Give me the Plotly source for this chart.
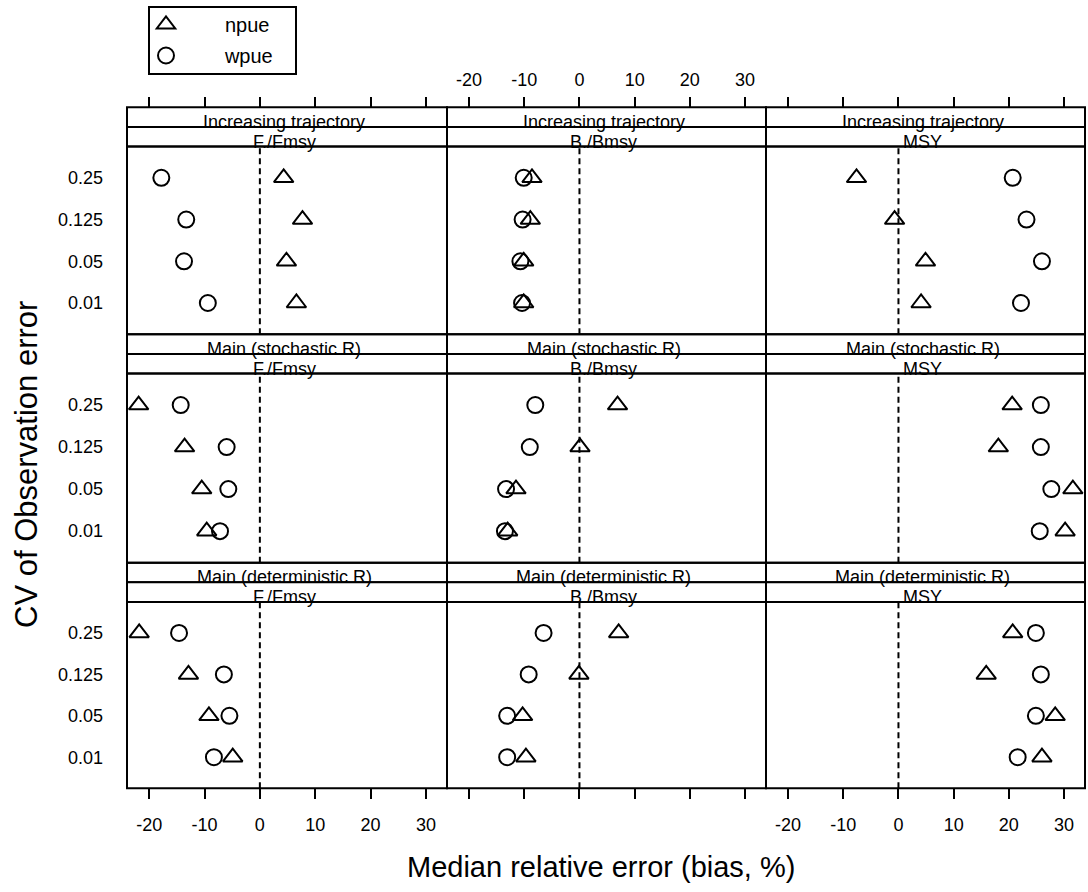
import plotly.graph_objects as go
from plotly.subplots import make_subplots

# ---------------- data ----------------
cv_levels = ["0.25", "0.125", "0.05", "0.01"]          # top -> bottom
cv_axis_order = ["0.01", "0.05", "0.125", "0.25"]      # bottom -> top
scenarios = ["Increasing trajectory", "Main (stochastic R)", "Main (deterministic R)"]
quantities = ["F./Fmsy", "B./Bmsy", "MSY"]
series_names = ["npue", "wpue"]
x_ticks = [-20, -10, 0, 10, 20, 30]
x_tick_labels = ["-20", "-10", "0", "10", "20", "30"]

# values listed in cv_levels order (0.25, 0.125, 0.05, 0.01)
inc_F_npue = [4.3, 7.7, 4.8, 6.6]
inc_F_wpue = [-17.8, -13.3, -13.7, -9.4]
inc_B_npue = [-8.6, -8.9, -10.1, -10.1]
inc_B_wpue = [-10.1, -10.3, -10.7, -10.4]
inc_MSY_npue = [-7.6, -0.7, 4.9, 4.1]
inc_MSY_wpue = [20.7, 23.2, 26.0, 22.2]

sto_F_npue = [-21.9, -13.6, -10.5, -9.6]
sto_F_wpue = [-14.3, -6.0, -5.7, -7.2]
sto_B_npue = [6.9, 0.1, -11.5, -13.0]
sto_B_wpue = [-8.0, -9.0, -13.3, -13.5]
sto_MSY_npue = [20.6, 18.1, 31.6, 30.2]
sto_MSY_wpue = [25.8, 25.8, 27.7, 25.6]

det_F_npue = [-21.8, -12.9, -9.2, -4.9]
det_F_wpue = [-14.6, -6.5, -5.5, -8.3]
det_B_npue = [7.1, -0.1, -10.3, -9.7]
det_B_wpue = [-6.5, -9.2, -13.1, -13.1]
det_MSY_npue = [20.7, 15.9, 28.4, 26.0]
det_MSY_wpue = [24.9, 25.8, 24.9, 21.6]

panels = [
    [(inc_F_npue, inc_F_wpue), (inc_B_npue, inc_B_wpue), (inc_MSY_npue, inc_MSY_wpue)],
    [(sto_F_npue, sto_F_wpue), (sto_B_npue, sto_B_wpue), (sto_MSY_npue, sto_MSY_wpue)],
    [(det_F_npue, det_F_wpue), (det_B_npue, det_B_wpue), (det_MSY_npue, det_MSY_wpue)],
]

# ---------------- layout geometry (pixels) ----------------
W, H = 1088, 892
FONT = "Liberation Sans, Arial, Helvetica, sans-serif"
col_x = [(127, 447), (447, 766), (766, 1085)]
row_top = [107.3, 334.3, 562.7]
row_bot = [334.3, 562.7, 788.3]
strip_h = 19.6
x_range = [-24.0, 33.8]


def fx(p):
    return p / W


def fy(p):
    return 1 - p / H


fig = make_subplots(rows=3, cols=3)

symbols = ["triangle-up-open", "circle-open"]
sizes = [17, 16]
legend_pad = "\u00a0" * 7

for r in range(3):
    for c in range(3):
        idx = r * 3 + c + 1
        sfx = "" if idx == 1 else str(idx)
        vals = panels[r][c]
        for s in range(2):
            fig.add_trace(
                go.Scatter(
                    x=vals[s],
                    y=cv_levels,
                    mode="markers",
                    name=legend_pad + series_names[s],
                    legendgroup=series_names[s],
                    showlegend=(idx == 1),
                    marker=dict(symbol=symbols[s], size=sizes[s], color="black",
                                line=dict(color="black", width=2)),
                    hoverinfo="skip",
                ),
                row=r + 1, col=c + 1,
            )
        # axis domains
        x0, x1 = col_x[c]
        ytop = row_top[r] + 2 * strip_h
        ybot = row_bot[r]
        xa = dict(domain=[fx(x0), fx(x1)], range=x_range,
                  tickmode="array", tickvals=x_ticks, ticktext=x_tick_labels,
                  showgrid=False, zeroline=False, showline=False,
                  tickfont=dict(family=FONT, size=18, color="black"),
                  tickcolor="black", tickwidth=2, ticklen=10)
        if r == 0:
            xa.update(side="top", anchor="free", position=fy(row_top[0]), ticks="outside",
                      showticklabels=(c == 1), ticklabelstandoff=4)
        elif r == 2:
            xa.update(side="bottom", ticks="outside", showticklabels=(c != 1),
                      ticklabelstandoff=10)
        else:
            xa.update(ticks="", showticklabels=False)
        ya = dict(domain=[fy(ybot), fy(ytop)], type="category",
                  categoryorder="array", categoryarray=cv_axis_order,
                  range=[-0.75, 3.75], showgrid=False, zeroline=False, showline=False,
                  ticks="", showticklabels=(c == 0),
                  tickfont=dict(family=FONT, size=18, color="black"),
                  ticklabelstandoff=23)
        fig.layout["xaxis" + sfx].update(xa)
        fig.layout["yaxis" + sfx].update(ya)

        # zero reference line
        fig.add_shape(type="line", xref="x" + sfx, yref="y" + sfx + " domain",
                      x0=0, x1=0, y0=0, y1=1,
                      line=dict(color="black", width=2, dash="6px,4px"))
        # panel frame
        fig.add_shape(type="rect", xref="paper", yref="paper",
                      x0=fx(x0), x1=fx(x1), y0=fy(ybot), y1=fy(ytop),
                      line=dict(color="black", width=2), fillcolor="rgba(0,0,0,0)")
        # strips
        for k, label in enumerate([scenarios[r], quantities[c]]):
            st = row_top[r] + k * strip_h
            sb = st + strip_h
            fig.add_shape(type="rect", xref="paper", yref="paper",
                          x0=fx(x0), x1=fx(x1), y0=fy(sb), y1=fy(st),
                          line=dict(color="black", width=2), fillcolor="white",
                          layer="below")
            fig.add_annotation(text=label, xref="paper", yref="paper",
                               x=fx((x0 + x1) / 2 - 3), y=fy(sb - 5),
                               xanchor="center", yanchor="middle", showarrow=False,
                               font=dict(family=FONT, size=18, color="black"))

# axis titles
fig.add_annotation(text="Median relative error (bias, %)", xref="paper", yref="paper",
                   x=fx(601), y=fy(867), xanchor="center", yanchor="middle",
                   showarrow=False, font=dict(family=FONT, size=29, color="black"))
fig.add_annotation(text="CV of Observation error", xref="paper", yref="paper",
                   x=fx(26), y=fy(465), xanchor="center", yanchor="middle", textangle=-90,
                   showarrow=False, font=dict(family=FONT, size=31, color="black"))

# legend box
fig.add_shape(type="rect", xref="paper", yref="paper",
              x0=fx(149), x1=fx(296), y0=fy(74), y1=fy(7),
              line=dict(color="black", width=2), fillcolor="rgba(0,0,0,0)")

fig.update_layout(
    width=W, height=H,
    margin=dict(l=0, r=0, t=0, b=0),
    paper_bgcolor="white", plot_bgcolor="white",
    showlegend=True,
    legend=dict(x=fx(146), y=fy(5), xanchor="left", yanchor="top",
                bgcolor="rgba(0,0,0,0)", borderwidth=0,
                font=dict(family=FONT, size=20, color="black"),
                itemsizing="trace", tracegroupgap=2),
    font=dict(family=FONT, color="black"),
)

fig.write_html("out.html", config={"displayModeBar": False},
               post_script="document.body.style.margin='0';document.body.style.overflow='hidden';")
